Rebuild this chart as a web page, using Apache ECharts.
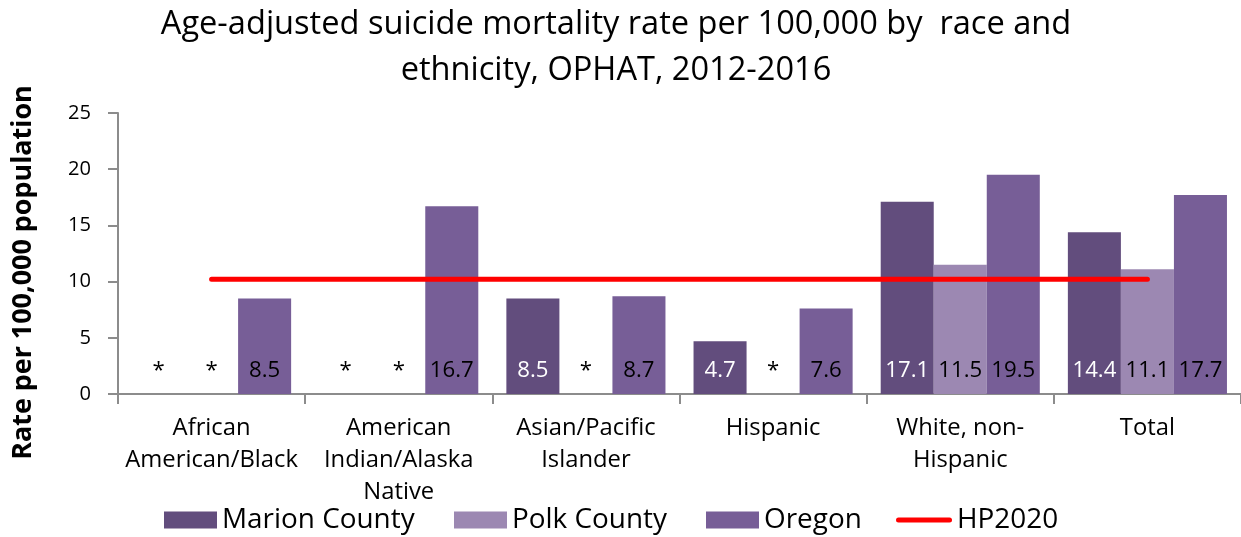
<!DOCTYPE html>
<html><head><meta charset="utf-8">
<script src="https://cdn.jsdelivr.net/npm/echarts@6/dist/echarts.min.js"></script>
<style>html,body{margin:0;padding:0;background:#fff}#c{width:1241px;height:537px}</style>
</head><body><div id="c"></div>
<script>
const categories = ["African\nAmerican/Black", "American\nIndian/Alaska\nNative", "Asian/Pacific\nIslander", "Hispanic", "White, non-\nHispanic", "Total"];
const marion = [null, null, 8.5, 4.7, 17.1, 14.4];
const polk = [null, null, null, null, 11.5, 11.1];
const oregon = [8.5, 16.7, 8.7, 7.6, 19.5, 17.7];
const hp2020 = [10.2, 10.2, 10.2, 10.2, 10.2, 10.2];
const yTicks = [0, 5, 10, 15, 20, 25];
const seriesNames = ['Marion County', 'Polk County', 'Oregon', 'HP2020'];
const titleText = 'Age-adjusted suicide mortality rate per 100,000 by  race and\nethnicity, OPHAT, 2012-2016';

// font sizing helper: fit a sample string to the width seen in the reference
const ctx = document.createElement('canvas').getContext('2d');
function fit(text, family, weight, target) {
  ctx.font = weight + ' 100px ' + family;
  return Math.round(100 * target / ctx.measureText(text).width * 10) / 10;
}
const SANS = '"Open Sans"';
const titleSize = fit('Age-adjusted suicide mortality rate per 100,000 by  race and', SANS, 'normal', 912);
const catSize = fit('Indian/Alaska', SANS, 'normal', 150);
const nameSize = fit('Rate per 100,000 population', SANS, 'bold', 375);
const tickSize = fit('25', SANS, 'normal', 23);
const barLblSize = fit('16.7', SANS, 'normal', 44);
const legendSize = fit('Marion County', SANS, 'normal', 193);

function barSeries(name, arr, color, labelColor) {
  return {
    name, type: 'bar', barGap: '0%', barCategoryGap: '15%',
    data: arr.map(v => v == null ? { value: 0, missing: true, label: { color: '#000' } } : v),
    itemStyle: { color },
    label: {
      show: true, position: 'insideBottom', distance: 12, fontFamily: SANS, fontSize: barLblSize,
      color: labelColor,
      formatter: p => (p.data && p.data.missing) ? '*' : String(p.value)
    },
    emphasis: { disabled: true }
  };
}
const legendX = [164, 454, 706, 896];
const legendIcons = ['rect', 'rect', 'rect', 'path://M2.5,0h51a2.5,2.5 0 0 1 0,5h-51a2.5,2.5 0 0 1 0,-5z'];
const legends = seriesNames.map((n, i) => ({
  left: legendX[i], top: 506, itemWidth: i === 3 ? 56 : 53, itemHeight: 17, padding: 0,
  textStyle: { fontFamily: SANS, fontSize: legendSize, color: '#000' },
  data: [{ name: n, icon: legendIcons[i] }]
}));

const chart = echarts.init(document.getElementById('c'));
chart.setOption({
  animation: false,
  textStyle: { fontFamily: SANS },
  title: {
    text: titleText,
    left: 611, textAlign: 'center', top: -3,
    textStyle: { fontFamily: SANS, fontSize: titleSize, fontWeight: 'normal', color: '#000', lineHeight: 46 }
  },
  legend: legends,
  grid: { left: 118, top: 113, right: 0, bottom: 143, containLabel: false, outerBoundsMode: 'none' },
  xAxis: {
    type: 'category', data: categories, boundaryGap: true,
    axisLine: { lineStyle: { color: '#8c8c8c', width: 2 } },
    axisTick: { show: true, length: 10, lineStyle: { color: '#8c8c8c', width: 2 } },
    axisLabel: { fontFamily: SANS, fontSize: catSize, color: '#000', lineHeight: 32, margin: 18, interval: 0 }
  },
  yAxis: {
    type: 'value', min: yTicks[0], max: yTicks[yTicks.length - 1], interval: 5,
    name: 'Rate per 100,000 population', nameLocation: 'middle', nameGap: 81, nameRotate: 90,
    nameTextStyle: { fontFamily: SANS, fontSize: nameSize, fontWeight: 'bold', color: '#000', padding: [0, 38, 0, 0] },
    axisLine: { show: true, lineStyle: { color: '#8c8c8c', width: 2 } },
    axisTick: { show: true, length: 10, lineStyle: { color: '#8c8c8c', width: 2 } },
    splitLine: { show: false },
    axisLabel: { fontFamily: SANS, fontSize: tickSize, color: '#000', margin: 27 }
  },
  series: [
    barSeries('Marion County', marion, '#624D7D', '#ffffff'),
    barSeries('Polk County', polk, '#9C88B2', '#000000'),
    barSeries('Oregon', oregon, '#775E97', '#000000'),
    {
      name: 'HP2020', type: 'line', data: hp2020, symbol: 'none', z: 5,
      lineStyle: { color: '#ff0000', width: 5, cap: 'round' }, itemStyle: { color: '#ff0000' },
      emphasis: { disabled: true }
    }
  ]
});
</script></body></html>
